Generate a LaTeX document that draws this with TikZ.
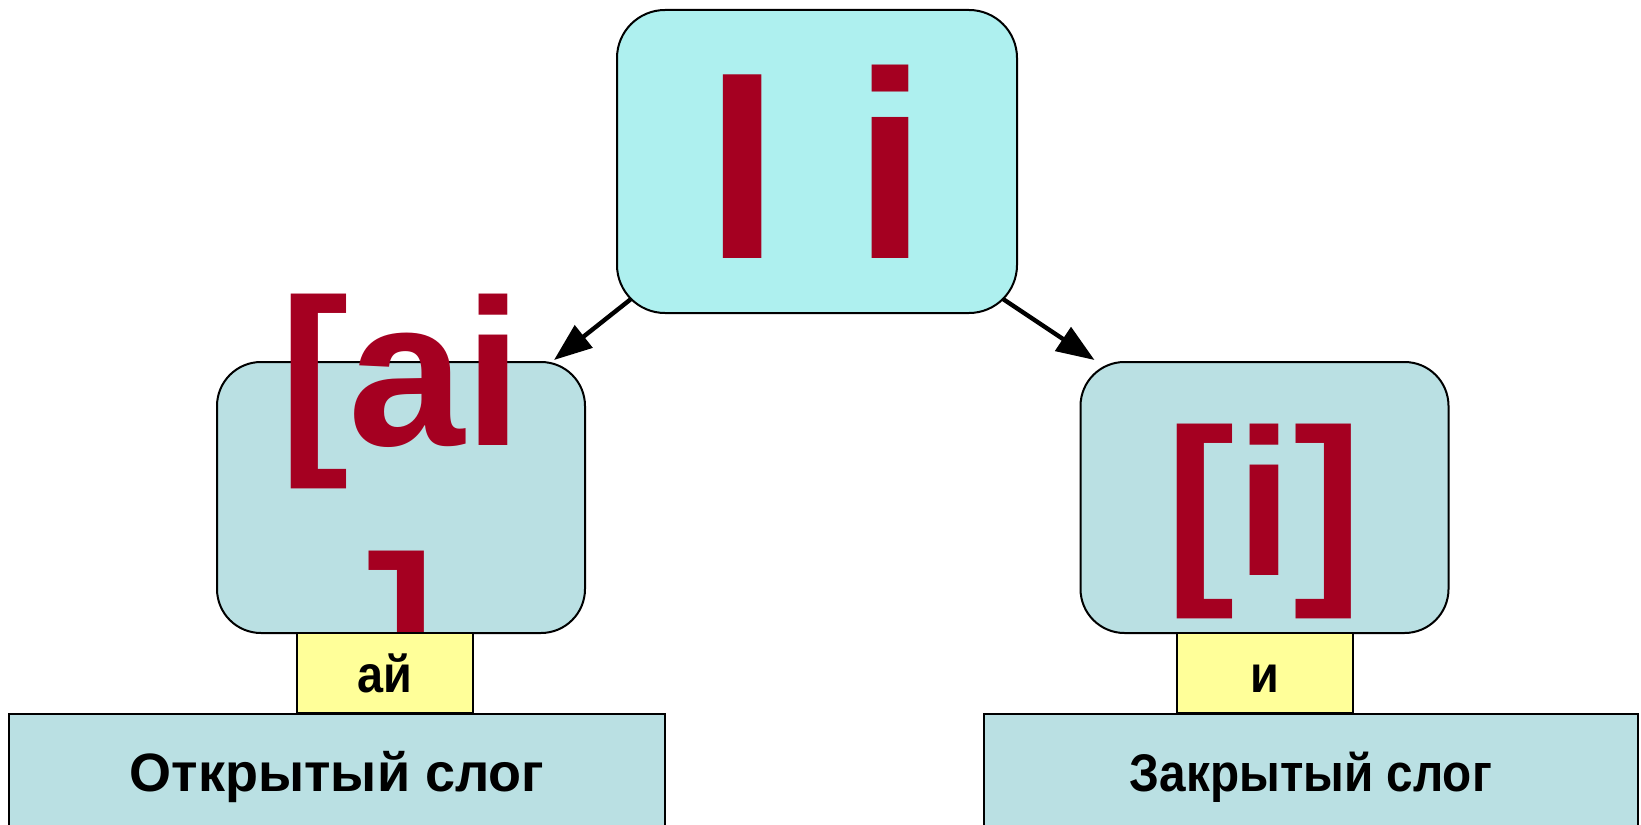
\documentclass[tikz,border=0pt]{standalone}
\usepackage{fontspec}
\setmainfont{Liberation Sans}
\newfontfamily\narrowfont[FakeStretch=0.9]{Liberation Sans}
\usetikzlibrary{arrows.meta}
\definecolor{topcyan}{HTML}{AEF0EF}
\definecolor{boxblue}{HTML}{BAE0E3}
\definecolor{notepale}{HTML}{FFFF99}
\definecolor{letterred}{HTML}{A50021}
\begin{document}
\begin{tikzpicture}[x=0.5pt,y=-0.5pt,
    letterbox/.style={draw,line width=1pt,rounded corners=24pt,fill=topcyan,
      minimum width=200pt,minimum height=151.5pt,inner sep=0pt},
    soundbox/.style={draw,line width=1pt,rounded corners=22pt,fill=boxblue,
      minimum width=184pt,minimum height=135.5pt},
    sound/.style={inner sep=0pt,text=letterred,font=\fontsize{104.5}{128.4}\selectfont\bfseries},
    notebox/.style={draw,line width=1pt,fill=notepale,minimum width=88pt,minimum height=40pt,
      inner sep=0pt,text height=20pt,text depth=1pt,font=\fontsize{26}{31}\narrowfont\bfseries},
    syllable/.style={draw,line width=1.1pt,fill=boxblue,minimum width=328pt,minimum height=63pt,
      inner sep=0pt,text height=20pt,text depth=6pt,font=\fontsize{26.5}{31}\narrowfont\bfseries},
    pointer/.style={line width=2.2pt,-{Triangle[length=19pt,width=14pt]}}]
  \path[use as bounding box,fill=white] (0,0) rectangle (1641,824);
  % letter and its two readings
  \node[letterbox,text=letterred,font=\fontsize{133.5}{160}\selectfont\bfseries] (letter) at (817,161.5) {I i};
  \node[soundbox] (openbox) at (401,497.5) {};
  \node[soundbox] (closedbox) at (1264.5,497.5) {};
  \node[sound,align=center,anchor=north] (opensound) at (401,294) {[ai\\]};
  \node[sound,anchor=base] (closedsound) at (1264.5,575) {[i]};
  \draw[pointer] ([shift={(15,-15)}]letter.south west) -- ([shift={(-32,-1)}]openbox.north east);
  \draw[pointer] ([shift={(-15,-15)}]letter.south east) -- ([shift={(15,-1)}]closedbox.north west);
  % hints and syllable types
  \node[notebox] (opennote) at (385,673) {ай};
  \node[notebox] (closednote) at (1265,673) {и};
  \node[syllable,font=\fontsize{27}{32}\selectfont\bfseries,anchor=north west] (opensyl) at (8,713) {Открытый слог};
  \node[syllable,minimum width=327pt,anchor=north east] (closedsyl) at (1639,713) {Закрытый слог};
\end{tikzpicture}
\end{document}
